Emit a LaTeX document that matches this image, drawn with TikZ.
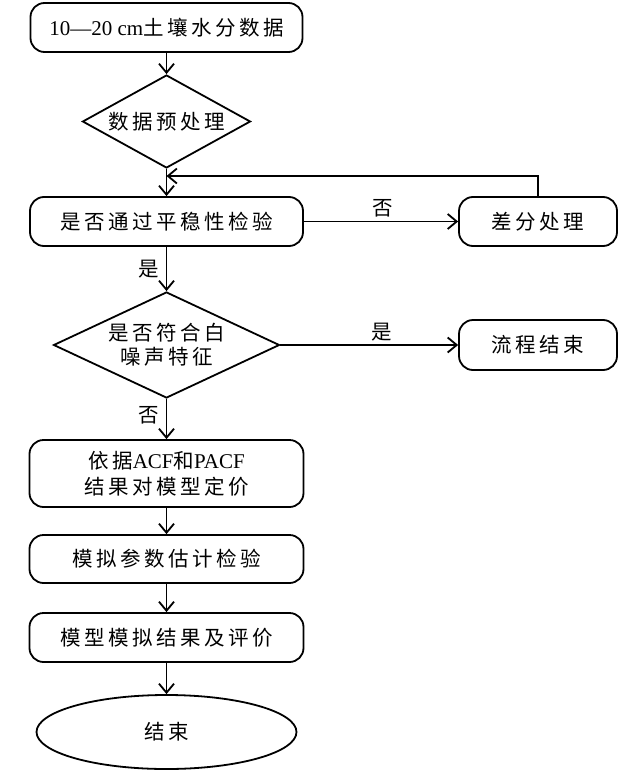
\documentclass[tikz,border=0pt]{standalone}
\usepackage{fontspec}
\setmainfont{Liberation Serif}
\newfontfamily\cjk[LetterSpace=17]{Noto Sans CJK SC}
\usetikzlibrary{arrows.meta,shapes.geometric}
\begin{document}
\begin{tikzpicture}[x=1pt,y=-1pt, line width=1.8pt,
  box/.style={draw, rounded corners=14pt, inner sep=0pt, font=\fontsize{21}{26}\selectfont},
  dia/.style={draw, diamond, inner sep=0pt},
  txt/.style={font=\fontsize{20.5}{24}\selectfont\cjk},
  arr/.style={-{Straight Barb[length=9pt,width=15pt]}}]
\useasboundingbox (0,0) rectangle (625,771);
\node[box, minimum width=272pt, minimum height=49pt] (n1) at (166.5,27.5) {10—20 cm{\cjk\fontsize{20.5}{26}\selectfont 土壤水分数据}};
\node[dia, minimum width=168pt, minimum height=93pt] (d1) at (166.5,121.5) {};
\node[txt] at (d1) {数据预处理};
\node[box, minimum width=273pt, minimum height=49pt] (n2) at (166.5,221.5) {\cjk\fontsize{20.5}{26}\selectfont 是否通过平稳性检验};
\node[box, minimum width=158pt, minimum height=49pt] (n3) at (538,221.5) {\cjk\fontsize{20.5}{26}\selectfont 差分处理};
\node[dia, minimum width=226pt, minimum height=106pt] (d2) at (166.5,345) {};
\node[txt, align=center] at (d2) {是否符合白\\噪声特征};
\node[box, minimum width=158pt, minimum height=50pt] (n4) at (538,345) {\cjk\fontsize{20.5}{26}\selectfont 流程结束};
\node[box, minimum width=274pt, minimum height=67pt, align=center] (n5) at (166.5,473.5) {{\cjk\fontsize{20.5}{26}\selectfont 依据}ACF{\cjk\fontsize{20.5}{26}\selectfont 和}PACF\\{\cjk\fontsize{20.5}{26}\selectfont 结果对模型定价}};
\node[box, minimum width=274pt, minimum height=48pt] (n6) at (166.5,559) {\cjk\fontsize{20.5}{26}\selectfont 模拟参数估计检验};
\node[box, minimum width=274pt, minimum height=49pt] (n7) at (166.5,637.5) {\cjk\fontsize{20.5}{26}\selectfont 模型模拟结果及评价};
\node[draw, ellipse, minimum width=260pt, minimum height=74pt, inner sep=0pt, font=\fontsize{20.5}{24}\selectfont] (e) at (166.5,732) {\cjk 结束};
\coordinate (fb) at (166.5,176);
\draw[arr] (n1) -- (d1);
\draw[arr] (d1) -- (n2);
\draw[arr] (n3.north) |- (fb);
\draw[arr] (n2) -- node[above, txt, pos=0.51]{否} (n3);
\draw[arr] (n2) -- node[left, txt, xshift=-3pt]{是} (d2);
\draw[arr] (d2) -- node[above, txt, pos=0.57]{是} (n4);
\draw[arr] (d2) -- node[left, txt, xshift=-3pt, pos=0.4]{否} (n5);
\draw[arr] (n5) -- (n6);
\draw[arr] (n6) -- (n7);
\draw[arr] (n7) -- (e);
\end{tikzpicture}
\end{document}
